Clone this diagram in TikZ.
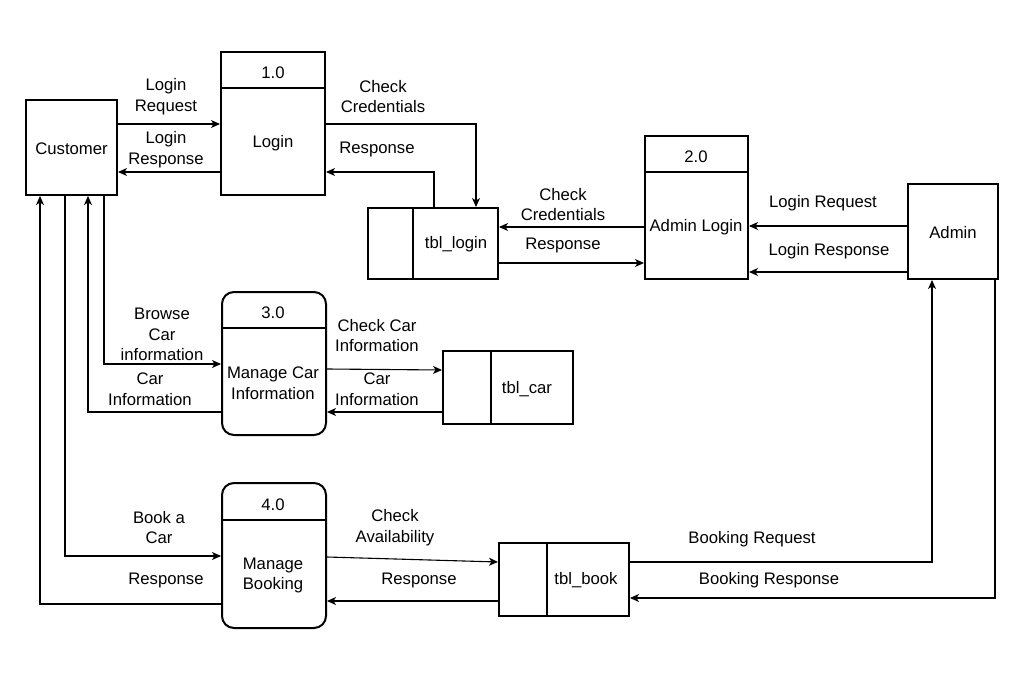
\documentclass[tikz,border=0pt]{standalone}
\usepackage{fontspec}
\setmainfont{Liberation Sans}
\usetikzlibrary{arrows.meta}
\begin{document}
\begin{tikzpicture}[x=1pt,y=-1pt,
  every node/.style={font=\fontsize{16.7}{20.7}\selectfont, inner sep=0pt, align=center},
  ent/.style={draw, line width=2pt, rectangle},
  proc/.style={draw, line width=2pt, rectangle},
  rproc/.style={draw, line width=2pt, rectangle, rounded corners=12pt},
  store/.style={draw, line width=2pt, rectangle},
  hline/.style={line width=2pt},
  arr/.style={line width=1.1pt, -{Stealth[length=9pt,width=8pt,inset=2.5pt]}},
  lbl/.style={yshift=-1.5pt}
]
\useasboundingbox (0,0) rectangle (1015,685);

% entities
\node[ent, minimum width=91, minimum height=95] (cust) at (71.5,147.5) {};
\node[lbl] (custt) at (71.5,147.5) {Customer};
\node[ent, minimum width=90, minimum height=95] (admin) at (953,231.5) {};
\node[lbl] (admint) at (953,231.5) {Admin};

% process 1.0
\node[proc, minimum width=104, minimum height=143] (p1) at (273,123.5) {};
\draw[hline] (p1.west |- 0,88) -- (p1.east |- 0,88);
\node[lbl] (p1n) at (273,71) {1.0};
\node[lbl] (p1t) at (273,142) {Login};

% process 2.0
\node[proc, minimum width=103, minimum height=143] (p2) at (696.5,207.5) {};
\draw[hline] (p2.west |- 0,172) -- (p2.east |- 0,172);
\node[lbl] (p2n) at (696,155) {2.0};
\node[lbl] (p2t) at (696,226) {Admin Login};

% process 3.0
\node[rproc, minimum width=104, minimum height=143] (p3) at (274,363.5) {};
\draw[hline] (p3.west |- 0,328) -- (p3.east |- 0,328);
\node[lbl] (p3n) at (273,311) {3.0};
\node[lbl] (p3t) at (273,382) {Manage Car\\Information};

% process 4.0
\node[rproc, minimum width=104, minimum height=145] (p4) at (274,555.5) {};
\draw[hline] (p4.west |- 0,520) -- (p4.east |- 0,520);
\node[lbl] (p4n) at (273,503) {4.0};
\node[lbl] (p4t) at (273,574) {Manage\\Booking};

% data stores
\node[store, minimum width=130, minimum height=71] (tl) at (433,243.5) {};
\draw[hline] (tl.north -| 413,0) -- (tl.south -| 413,0);
\node[lbl] (tlt) at (456,243) {tbl\_login};

\node[store, minimum width=130, minimum height=73] (tc) at (508,387.5) {};
\draw[hline] (tc.north -| 491,0) -- (tc.south -| 491,0);
\node[lbl] (tct) at (527,388) {tbl\_car};

\node[store, minimum width=130, minimum height=73] (tb) at (564,579.5) {};
\draw[hline] (tb.north -| 547,0) -- (tb.south -| 547,0);
\node[lbl] (tbt) at (586,579) {tbl\_book};

% connectors: customer / login
\draw[arr] (cust.east |- 0,124) -- (p1.west |- 0,124);
\draw[arr] (p1.west |- 0,172) -- (cust.east |- 0,172);
\draw[arr] (p1.east |- 0,124) -| (tl.north -| 476,0);
\draw[arr] (tl.north -| 434,0) |- (p1.east |- 0,172);

% admin login
\draw[arr] (p2.west |- 0,227) -- (tl.east |- 0,227);
\draw[arr] (tl.east |- 0,263) -- (p2.west |- 0,263);
\draw[arr] (admin.west |- 0,226) -- (p2.east |- 0,226);
\draw[arr] (admin.west |- 0,272) -- (p2.east |- 0,272);

% car information
\draw[arr] (cust.south -| 104,0) |- (p3.west |- 0,364);
\draw[arr] (p3.west |- 0,412) -| (cust.south -| 88,0);
\draw[arr] (p3.east |- 0,369) -- (tc.west |- 0,370);
\draw[arr] (tc.west |- 0,412) -- (p3.east |- 0,412);

% booking
\draw[arr] (cust.south -| 65,0) |- (p4.west |- 0,556);
\draw[arr] (p4.west |- 0,604) -| (cust.south -| 40,0);
\draw[arr] (p4.east |- 0,557) -- (tb.west |- 0,562);
\draw[arr] (tb.west |- 0,601) -- (p4.east |- 0,601);
\draw[arr] (tb.east |- 0,562) -| (admin.south -| 932,0);
\draw[arr] (admin.south -| 995,0) |- (tb.east |- 0,598);

% labels
\node[lbl] (l1) at (166,95) {Login\\Request};
\node[lbl] (l2) at (166,148) {Login\\Response};
\node[lbl] (l3) at (383,95) {Check\\Credentials};
\node[lbl] (l4) at (377,148) {Response};
\node[lbl] (l5) at (563,203) {Check\\Credentials};
\node[lbl] (l6) at (563,244) {Response};
\node[lbl] (l7) at (823,202) {Login Request};
\node[lbl] (l8) at (829,250) {Login Response};
\node[lbl] (l9) at (162,333) {Browse\\Car\\information};
\node[lbl] (l10) at (150,388) {Car\\Information};
\node[lbl] (l11) at (377,334) {Check Car\\Information};
\node[lbl] (l12) at (377,388) {Car\\Information};
\node[lbl] (l13) at (159,526) {Book a\\Car};
\node[lbl] (l14) at (166,579) {Response};
\node[lbl] (l15) at (395,526) {Check\\Availability};
\node[lbl] (l16) at (419,579) {Response};
\node[lbl] (l17) at (752,538) {Booking Request};
\node[lbl] (l18) at (769,579) {Booking Response};
\end{tikzpicture}
\end{document}
